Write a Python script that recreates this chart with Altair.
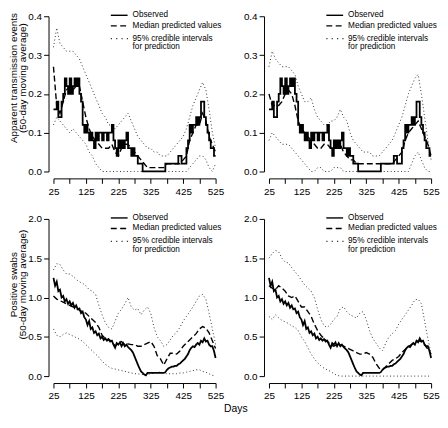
import altair as alt
import pandas as pd

FONT = "Liberation Sans, Arial, Helvetica, sans-serif"

# ---------------- data ----------------
obs_days = list(range(25, 530, 5))
pred_days = list(range(25, 530, 10))

# Observed apparent transmission events (50-day moving average)
obs_trans = [
    0.16, 0.16, 0.18, 0.14, 0.14, 0.18, 0.20, 0.24, 0.22, 0.20,
    0.24, 0.20, 0.22, 0.24, 0.22, 0.24, 0.20, 0.18, 0.12, 0.10,
    0.12, 0.10, 0.08, 0.10, 0.08, 0.06, 0.10, 0.08, 0.10, 0.10,
    0.08, 0.10, 0.10, 0.08, 0.10, 0.10, 0.12, 0.08, 0.06, 0.04,
    0.08, 0.06, 0.08, 0.06, 0.08, 0.10, 0.06, 0.06, 0.04, 0.06,
    0.04, 0.04, 0.02, 0.02, 0.02, 0.00, 0.00, 0.00, 0.00, 0.00,
    0.00, 0.00, 0.00, 0.00, 0.00, 0.00, 0.00, 0.00, 0.00, 0.02,
    0.02, 0.02, 0.02, 0.02, 0.02, 0.02, 0.02, 0.04, 0.04, 0.02,
    0.02, 0.02, 0.06, 0.08, 0.12, 0.10, 0.12, 0.12, 0.14, 0.12,
    0.14, 0.18, 0.18, 0.14, 0.12, 0.10, 0.08, 0.06, 0.06, 0.04, 0.04,
]

# Observed positive swabs (50-day moving average)
obs_swabs = [
    1.25, 1.15, 1.20, 1.08, 1.10, 1.00, 1.02, 0.95, 0.98, 0.92,
    0.95, 0.90, 0.93, 0.87, 0.90, 0.85, 0.86, 0.80, 0.82, 0.75,
    0.72, 0.65, 0.70, 0.60, 0.62, 0.55, 0.57, 0.52, 0.54, 0.48,
    0.50, 0.46, 0.48, 0.45, 0.47, 0.44, 0.45, 0.40, 0.36, 0.42,
    0.40, 0.43, 0.38, 0.42, 0.38, 0.40, 0.37, 0.35, 0.33, 0.30,
    0.25, 0.20, 0.15, 0.10, 0.06, 0.04, 0.02, 0.01, 0.04, 0.04,
    0.04, 0.04, 0.04, 0.04, 0.04, 0.04, 0.04, 0.04, 0.04, 0.05,
    0.08, 0.10, 0.11, 0.12, 0.12, 0.13, 0.13, 0.15, 0.16, 0.18,
    0.20, 0.22, 0.25, 0.28, 0.33, 0.36, 0.38, 0.37, 0.40, 0.42,
    0.40, 0.45, 0.43, 0.48, 0.44, 0.45, 0.40, 0.38, 0.38, 0.32, 0.23,
]

# Top-left model
tl_median = [0.27, 0.17, 0.15, 0.18, 0.21, 0.22, 0.21, 0.22, 0.22, 0.18,
             0.14, 0.11, 0.09, 0.08, 0.07, 0.06, 0.06, 0.06, 0.07, 0.05,
             0.04, 0.06, 0.07, 0.07, 0.06, 0.05, 0.04, 0.03, 0.02, 0.01,
             0.01, 0.01, 0.01, 0.01, 0.01, 0.02, 0.02, 0.02, 0.02, 0.02,
             0.03, 0.04, 0.08, 0.10, 0.12, 0.12, 0.15, 0.13, 0.09, 0.07, 0.05]
tl_upper = [0.32, 0.37, 0.33, 0.32, 0.31, 0.31, 0.31, 0.30, 0.29, 0.27,
            0.25, 0.23, 0.21, 0.19, 0.17, 0.15, 0.14, 0.12, 0.12, 0.11,
            0.12, 0.13, 0.14, 0.15, 0.13, 0.11, 0.09, 0.08, 0.07, 0.06,
            0.06, 0.05, 0.05, 0.04, 0.04, 0.04, 0.05, 0.06, 0.07, 0.08,
            0.09, 0.11, 0.14, 0.17, 0.19, 0.21, 0.23, 0.21, 0.16, 0.10, 0.06]
tl_lower = [0.12, 0.14, 0.13, 0.12, 0.11, 0.10, 0.11, 0.10, 0.09, 0.08,
            0.07, 0.05, 0.04, 0.02, 0.01, 0.00, 0.00, 0.00, 0.00, 0.00,
            0.00, 0.00, 0.00, 0.00, 0.00, 0.00, 0.00, 0.00, 0.00, 0.00,
            0.00, 0.00, 0.00, 0.00, 0.00, 0.00, 0.00, 0.00, 0.00, 0.00,
            0.00, 0.00, 0.01, 0.02, 0.03, 0.04, 0.04, 0.03, 0.01, 0.00, 0.02]

# Top-right model
tr_median = [0.20, 0.17, 0.17, 0.17, 0.18, 0.20, 0.21, 0.20, 0.17, 0.13,
             0.11, 0.10, 0.09, 0.08, 0.07, 0.06, 0.06, 0.07, 0.07, 0.06,
             0.06, 0.07, 0.07, 0.05, 0.04, 0.03, 0.03, 0.02, 0.02, 0.02,
             0.02, 0.02, 0.02, 0.02, 0.02, 0.02, 0.02, 0.02, 0.02, 0.03,
             0.04, 0.05, 0.08, 0.10, 0.11, 0.12, 0.13, 0.11, 0.09, 0.07, 0.04]
tr_upper = [0.27, 0.31, 0.29, 0.28, 0.27, 0.27, 0.27, 0.26, 0.25, 0.22,
            0.20, 0.18, 0.18, 0.19, 0.16, 0.14, 0.13, 0.12, 0.12, 0.13,
            0.13, 0.14, 0.16, 0.14, 0.13, 0.10, 0.08, 0.07, 0.06, 0.05,
            0.05, 0.05, 0.04, 0.04, 0.04, 0.05, 0.06, 0.07, 0.08, 0.10,
            0.12, 0.14, 0.17, 0.20, 0.22, 0.24, 0.25, 0.20, 0.14, 0.08, 0.03]
tr_lower = [0.08, 0.10, 0.09, 0.08, 0.07, 0.07, 0.07, 0.06, 0.05, 0.04,
            0.03, 0.02, 0.01, 0.00, 0.00, 0.01, 0.01, 0.00, 0.00, 0.00,
            0.01, 0.01, 0.01, 0.00, 0.00, 0.00, 0.00, 0.00, 0.00, 0.00,
            0.00, 0.00, 0.00, 0.00, 0.00, 0.00, 0.00, 0.00, 0.00, 0.00,
            0.00, 0.00, 0.00, 0.00, 0.02, 0.04, 0.05, 0.03, 0.01, 0.00, 0.00]

# Bottom-left model
bl_median = [1.02, 0.98, 0.96, 0.94, 0.92, 0.90, 0.88, 0.86, 0.84, 0.82,
             0.80, 0.76, 0.72, 0.68, 0.62, 0.52, 0.48, 0.46, 0.45, 0.38,
             0.42, 0.44, 0.40, 0.41, 0.40, 0.40, 0.38, 0.38, 0.40, 0.42,
             0.44, 0.38, 0.26, 0.22, 0.14, 0.22, 0.29, 0.29, 0.28, 0.32,
             0.38, 0.42, 0.46, 0.50, 0.54, 0.60, 0.63, 0.61, 0.55, 0.45, 0.35]
bl_upper = [1.35, 1.43, 1.42, 1.35, 1.30, 1.30, 1.27, 1.23, 1.20, 1.18,
            1.15, 1.10, 1.08, 1.04, 0.90, 0.78, 0.68, 0.62, 0.60, 0.70,
            0.80, 0.85, 0.92, 1.00, 0.88, 0.84, 0.86, 0.78, 0.84, 0.88,
            0.80, 0.62, 0.50, 0.45, 0.38, 0.40, 0.46, 0.52, 0.56, 0.62,
            0.70, 0.76, 0.82, 0.88, 0.95, 1.02, 1.04, 0.98, 0.80, 0.60, 0.40]
bl_lower = [0.60, 0.52, 0.50, 0.53, 0.55, 0.53, 0.51, 0.49, 0.47, 0.44,
            0.40, 0.36, 0.32, 0.28, 0.24, 0.19, 0.15, 0.12, 0.10, 0.09,
            0.08, 0.07, 0.06, 0.05, 0.04, 0.03, 0.03, 0.02, 0.02, 0.02,
            0.03, 0.04, 0.05, 0.05, 0.04, 0.03, 0.03, 0.03, 0.03, 0.04,
            0.04, 0.05, 0.06, 0.07, 0.08, 0.08, 0.06, 0.05, 0.03, 0.01, 0.00]

# Bottom-right model
br_median = [1.15, 1.12, 1.10, 1.15, 1.12, 1.08, 1.02, 1.00, 1.02, 0.95,
             0.88, 0.88, 0.82, 0.76, 0.66, 0.58, 0.52, 0.48, 0.44, 0.40,
             0.38, 0.40, 0.40, 0.38, 0.36, 0.34, 0.32, 0.30, 0.28, 0.28,
             0.30, 0.28, 0.24, 0.16, 0.10, 0.08, 0.12, 0.16, 0.20, 0.22,
             0.25, 0.30, 0.34, 0.38, 0.40, 0.43, 0.45, 0.44, 0.40, 0.34, 0.28]
br_upper = [1.50, 1.56, 1.60, 1.58, 1.50, 1.45, 1.44, 1.38, 1.33, 1.28,
            1.22, 1.16, 1.12, 1.08, 1.00, 0.85, 0.72, 0.64, 0.62, 0.66,
            0.72, 0.76, 0.86, 0.88, 0.82, 0.78, 0.76, 0.74, 0.80, 0.82,
            0.72, 0.58, 0.48, 0.42, 0.36, 0.32, 0.42, 0.50, 0.54, 0.58,
            0.66, 0.72, 0.78, 0.84, 0.90, 0.97, 0.98, 0.92, 0.70, 0.48, 0.28]
br_lower = [0.76, 0.72, 0.78, 0.74, 0.71, 0.69, 0.67, 0.64, 0.62, 0.58,
            0.50, 0.44, 0.36, 0.28, 0.22, 0.17, 0.13, 0.10, 0.08, 0.06,
            0.03, 0.01, 0.00, 0.00, 0.00, 0.00, 0.00, 0.00, 0.00, 0.00,
            0.00, 0.00, 0.00, 0.00, 0.00, 0.00, 0.00, 0.00, 0.00, 0.00,
            0.00, 0.00, 0.00, 0.00, 0.00, 0.00, 0.00, 0.00, 0.00, 0.00, 0.00]

x_ticks = list(range(25, 530, 50))
legend_labels = ["Observed", "Median predicted values",
                 "95% credible intervals", "for prediction"]

# ---------------- chart ----------------
W = 164


def panel(obs, med, up, lo, ymax, yticks, height, ytitle, title_y, interp):
    obs_df = pd.DataFrame({"day": obs_days, "value": obs})
    pred_df = pd.DataFrame({"day": pred_days, "med": med, "up": up, "lo": lo})
    xs = alt.Scale(domain=[25, 525], nice=False, zero=False)
    ys = alt.Scale(domain=[0, ymax], nice=False, zero=False)
    xaxis = alt.Axis(values=x_ticks, format="d",
                     labelExpr="(datum.value - 25) % 100 == 0 ? datum.label : ''",
                     offset=7, tickSize=5, tickColor="black", domainColor="black",
                     labelColor="black", labelFontSize=10, labelFlush=False,
                     labelOverlap=False, grid=False, labelPadding=3, title="")
    ykw = dict(values=yticks, format=".1f", offset=5, tickSize=5,
               tickColor="black", domainColor="black", labelColor="black",
               labelFontSize=10, labelFlush=False, labelOverlap=False,
               grid=False, labelPadding=2)
    if ytitle:
        ykw.update(title=ytitle, titleFontSize=10, titleFontWeight="normal",
                   titleColor="black", titleLineHeight=9.5, titlePadding=0,
                   titleY=title_y)
    else:
        ykw.update(title="")
    yaxis = alt.Axis(**ykw)

    def band(field, dash, width, color):
        return alt.Chart(pred_df).mark_line(
            color=color, strokeWidth=width, strokeDash=dash
        ).encode(
            x=alt.X("day:Q", scale=xs, axis=xaxis),
            y=alt.Y(f"{field}:Q", scale=ys, axis=yaxis),
        )

    lower = band("lo", [1, 2.5], 1, "#333333")
    upper = band("up", [1, 2.5], 1, "#333333")
    median = band("med", [6, 3], 1.4, "black")
    observed = alt.Chart(obs_df).mark_line(
        color="black", strokeWidth=1.8, interpolate=interp
    ).encode(
        x=alt.X("day:Q", scale=xs, axis=xaxis),
        y=alt.Y("value:Q", scale=ys, axis=yaxis),
    )

    one = pd.DataFrame({"k": [0]})
    sx0, sx1, tx = 58, 75, 80
    rows = [-1, 9.7, 22.7, 31.3]
    leg = []
    leg.append(alt.Chart(one).mark_rule(color="black", strokeWidth=1.4).encode(
        x=alt.value(sx0), x2=alt.value(sx1), y=alt.value(rows[0])))
    leg.append(alt.Chart(one).mark_rule(color="black", strokeWidth=1.4,
                                        strokeDash=[6, 3.5]).encode(
        x=alt.value(sx0), x2=alt.value(sx1 + 1), y=alt.value(rows[1])))
    leg.append(alt.Chart(one).mark_rule(color="#333333", strokeWidth=1.2,
                                        strokeDash=[1.2, 4.2]).encode(
        x=alt.value(sx0), x2=alt.value(sx1 + 1), y=alt.value(rows[2])))
    for lab, ry in zip(legend_labels, rows):
        leg.append(alt.Chart(one).mark_text(
            text=lab, align="left", baseline="middle", fontSize=8.3,
            font=FONT, color="black"
        ).encode(x=alt.value(tx), y=alt.value(ry)))

    return alt.layer(lower, upper, median, observed, *leg).properties(
        width=W, height=height)


top_ticks = [0.0, 0.1, 0.2, 0.3, 0.4]
bot_ticks = [0.0, 0.5, 1.0, 1.5, 2.0]

tl = panel(obs_trans, tl_median, tl_upper, tl_lower, 0.4, top_ticks, 157,
           ["Apparent transmission events", "(50-day moving average)"], 62,
           "step-after")
tr = panel(obs_trans, tr_median, tr_upper, tr_lower, 0.4, top_ticks, 157,
           None, 62, "step-after")
bl = panel(obs_swabs, bl_median, bl_upper, bl_lower, 2.0, bot_ticks, 159,
           ["Positive swabs", "(50-day moving average)"], 66, "linear")
br = panel(obs_swabs, br_median, br_upper, br_lower, 2.0, bot_ticks, 159,
           None, 66, "linear")

chart = alt.concat(
    tl, tr, bl, br, columns=2, spacing={"row": 48, "column": 54}, bounds="flush"
).properties(
    padding=0,
    title=alt.TitleParams("Days", orient="bottom", anchor="middle", fontSize=10.5,
                          fontWeight="normal", color="black", font=FONT,
                          offset=3, dx=12),
).configure(font=FONT).configure_view(stroke=None)

chart.save("out.html", embed_options={"renderer": "svg", "actions": False})
